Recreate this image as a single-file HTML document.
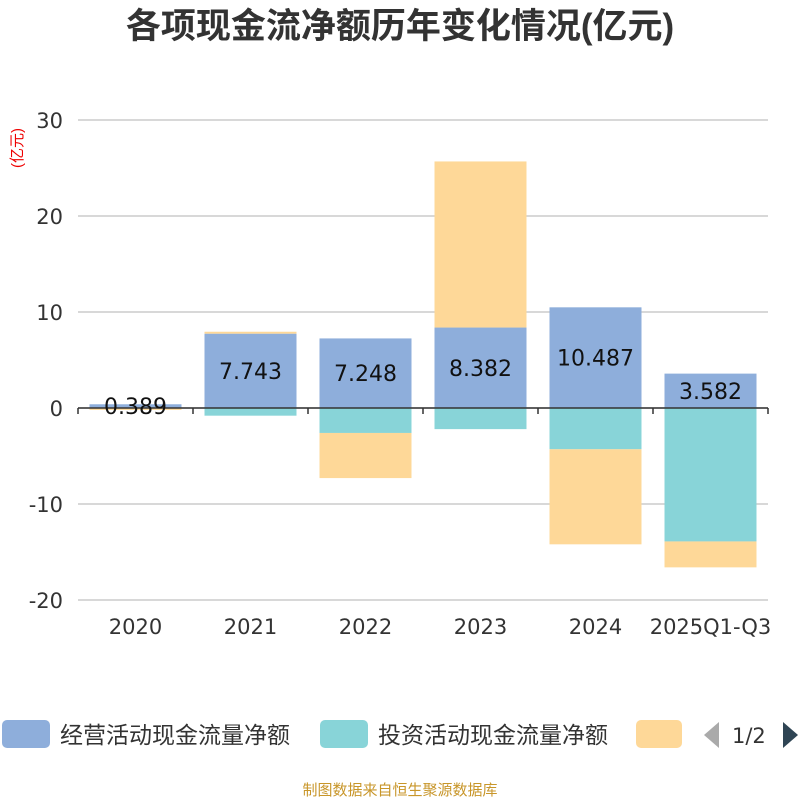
<!DOCTYPE html>
<html><head><meta charset="utf-8"><style>
body{margin:0;background:#fff;font-family:"Liberation Sans","Noto Sans CJK SC",sans-serif}
</style></head><body>
<svg id="c" width="800" height="800" xmlns="http://www.w3.org/2000/svg">
<text x="400" y="38" text-anchor="middle" font-size="35" font-weight="bold" fill="#333" font-family="Liberation Sans,Noto Sans CJK SC,sans-serif">各项现金流净额历年变化情况(亿元)</text>
<text transform="translate(22,148) rotate(-90)" text-anchor="middle" font-size="15" fill="#e00" font-family="Liberation Sans,Noto Sans CJK SC,sans-serif">(亿元)</text>
<g id="grid"></g><g id="bars"></g><g id="axes" font-family="DejaVu Sans,sans-serif"></g>
<g font-family="Liberation Sans,Noto Sans CJK SC,sans-serif" font-size="23" fill="#333">
<rect x="2" y="720" width="48" height="28" rx="5" fill="#8eaedb"/>
<text x="60" y="743">经营活动现金流量净额</text>
<rect x="320" y="720" width="48" height="28" rx="5" fill="#88d4d8"/>
<text x="378" y="743">投资活动现金流量净额</text>
<rect x="636" y="720" width="46" height="28" rx="5" fill="#fed898"/>
<polygon points="719,722 719,748 704,735" fill="#aaa"/>
<text x="732" y="743" font-family="DejaVu Sans,sans-serif" font-size="21">1/2</text>
<polygon points="783,722 783,748 798,735" fill="#2f4554"/>
</g>
<text x="400" y="795" text-anchor="middle" font-size="15" fill="#c8962a" font-family="Liberation Sans,Noto Sans CJK SC,sans-serif">制图数据来自恒生聚源数据库</text>
</svg>
<script>
const categories=["2020","2021","2022","2023","2024","2025Q1-Q3"];
const operating=[0.389,7.743,7.248,8.382,10.487,3.582];
const investing=[-0.05,-0.8,-2.6,-2.2,-4.3,-13.9];
const financing=[-0.15,0.2,-4.7,17.3,-9.9,-2.7];
const yTicks=[30,20,10,0,-10,-20];
const NS="http://www.w3.org/2000/svg";
const x0=78,x1=768,yTop=120,yBot=600,yMax=30,yMin=-20;
const band=(x1-x0)/categories.length,bw=92;
const y=v=>yTop+(yMax-v)/(yMax-yMin)*(yBot-yTop);
const xc=i=>x0+band*(i+0.5);
function mk(tag,attrs,parent){const e=document.createElementNS(NS,tag);for(const k in attrs)e.setAttribute(k,attrs[k]);parent.appendChild(e);return e;}
const grid=document.getElementById('grid'),bars=document.getElementById('bars'),axes=document.getElementById('axes');
yTicks.forEach(t=>{
 const l=mk('line',{x1:x0,x2:x1,y1:y(t),y2:y(t),stroke:'#ccc','stroke-width':1.5},grid);
 
 
 const tx=mk('text',{x:x0-15,y:y(t)+8,'text-anchor':'end','font-size':21,fill:'#333'},axes);
 tx.textContent=t;
 
 
});
const ax=mk('line',{x1:x0,x2:x1,y1:y(0),y2:y(0),stroke:'#333','stroke-width':1.5},axes);


for(let i=0;i<=categories.length;i++){
 const tk=mk('line',{x1:x0+band*i,x2:x0+band*i,y1:y(0),y2:y(0)+6,stroke:'#333','stroke-width':1.5},axes);
 
 
}
const series=[[operating,'#8eaedb','operating'],[investing,'#88d4d8','investing'],[financing,'#fed898','financing']];
categories.forEach((c,i)=>{
 let pos=0,neg=0;
 series.forEach(([arr,col,name])=>{
  const v=arr[i];let a,b;
  if(v>=0){a=pos;b=pos+v;pos=b;}else{a=neg;b=neg+v;neg=b;}
  const r=mk('rect',{x:xc(i)-bw/2,width:bw,y:Math.min(y(a),y(b)),height:Math.abs(y(a)-y(b)),fill:col},bars);
  
  
 });
 const lb=mk('text',{x:xc(i),y:(y(0)+y(operating[i]))/2+8,'text-anchor':'middle','font-size':22,fill:'#111'},axes);
 lb.textContent=operating[i];
 
 
 const xl=mk('text',{x:xc(i),y:634,'text-anchor':'middle','font-size':21,fill:'#333'},axes);
 xl.textContent=c;
 
 
});
</script>
</body></html>
